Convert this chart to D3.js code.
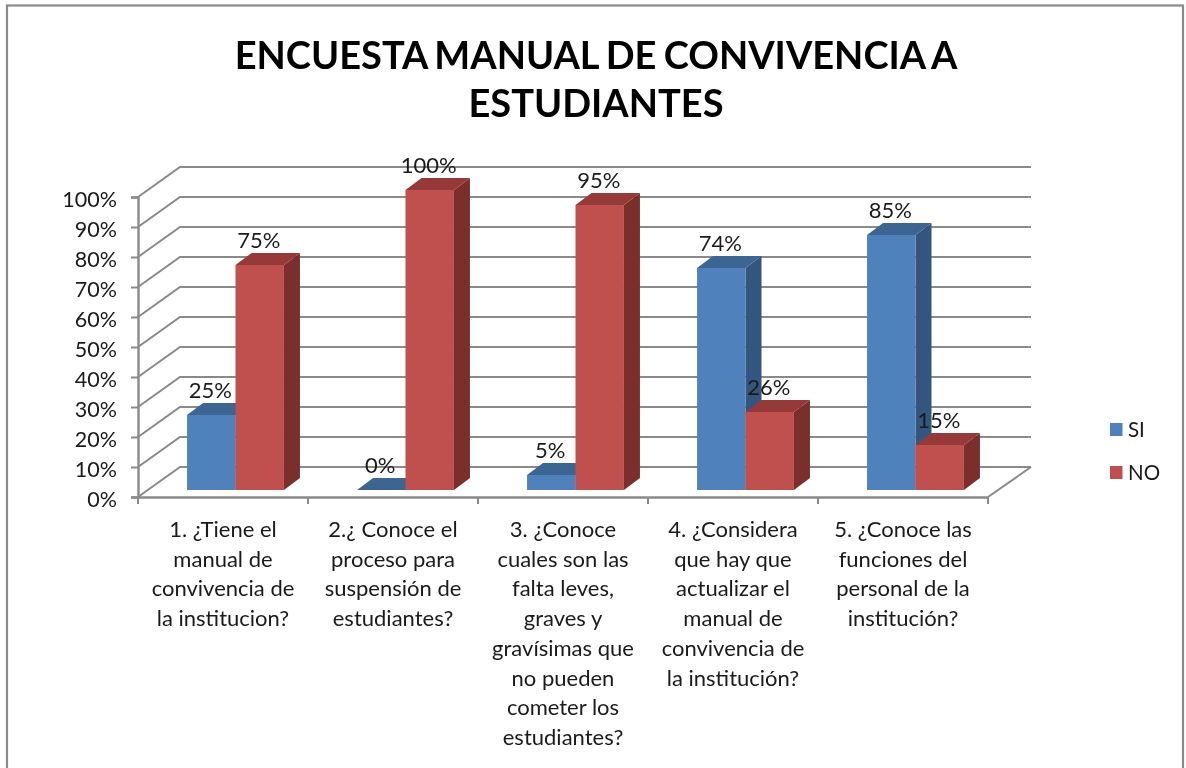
<!DOCTYPE html>
<html><head><meta charset="utf-8">
<script src="https://cdn.jsdelivr.net/npm/d3@7/dist/d3.min.js"></script>
<style>html,body{margin:0;padding:0;background:#fff;overflow:hidden}svg{display:block;filter:blur(0.4px)}text{font-family:Lato,"Open Sans",sans-serif;fill:#1a1a1a}</style>
</head><body><svg id="c" width="1186" height="768"></svg>
<script>
const titleLines = ["ENCUESTA MANUAL DE CONVIVENCIA A", "ESTUDIANTES"];
const categories = ["c1","c2","c3","c4","c5"];
const categoryLines = [
  ["1. ¿Tiene el","manual de","convivencia de","la institucion?"],
  ["2.¿ Conoce el","proceso para","suspensión de","estudiantes?"],
  ["3. ¿Conoce","cuales son las","falta leves,","graves y","gravísimas que","no pueden","cometer los","estudiantes?"],
  ["4. ¿Considera","que hay que","actualizar el","manual de","convivencia de","la institución?"],
  ["5. ¿Conoce las","funciones del","personal de la","institución?"]
];
const seriesNames = ["SI","NO"];
const siValues = [25,0,5,74,85];
const noValues = [75,100,95,26,15];
const yTicks = [0,10,20,30,40,50,60,70,80,90,100];
const colors = {SI:{front:"#4F81BD",top:"#3C6591",side:"#34557E"},NO:{front:"#C0504D",top:"#953A38",side:"#7B2F2D"}};

const svg = d3.select("#c");
const L=138,R=988,B=497,T=197, wdx=42, wdy=-30, bdx=16, bdy=-12, baseLift=7, barShift=12.5;
const y = d3.scaleLinear().domain([0,100]).range([B,T]);
const x = d3.scaleBand().domain(categories).range([L,R]);
const xBars = d3.scaleBand().domain(categories).range([L+barShift,R+barShift]).paddingInner(0.43).paddingOuter(0.215);
const xInner = d3.scaleBand().domain(seriesNames).range([0,xBars.bandwidth()]);
const grid="#8a8a8a";

// frame
svg.append("rect").attr("x",7).attr("y",5.5).attr("width",1176).attr("height",780).attr("fill","#fff").attr("stroke",grid).attr("stroke-width",2.2);

// title
svg.append("g").selectAll("text").data(titleLines).join("text")
  .attr("x",596).attr("y",(d,i)=>69+i*47.5).attr("text-anchor","middle")
  .attr("font-size",38).attr("font-weight",700).attr("word-spacing",-2).style("fill","#000").text(d=>d);

// walls
const gl=svg.append("g").attr("stroke",grid).attr("stroke-width",2).attr("fill","none");
yTicks.forEach(t=>{
  gl.append("path").attr("d",`M${L},${y(t)}L${L+wdx},${y(t)+wdy}L${R+wdx+1},${y(t)+wdy}`);
});
gl.append("path").attr("d",`M${R},${B}L${R+wdx+1},${B+wdy}`);

// axes
const ya=svg.append("g").attr("transform",`translate(${L},0)`)
  .call(d3.axisLeft(y).tickValues(yTicks).tickFormat(d=>d+"%").tickSize(7).tickPadding(14));
const xa=svg.append("g").attr("transform",`translate(0,${B})`)
  .call(d3.axisBottom(x).tickFormat("").tickSize(0));
[ya,xa].forEach(a=>{a.selectAll("path").attr("stroke",grid).attr("stroke-width",2.4);a.selectAll("line").attr("stroke",grid).attr("stroke-width",2);});
ya.selectAll("text").attr("font-size",21.5).attr("dy","0.42em").style("fill","#1a1a1a");
xa.selectAll(".tk").data(d3.range(categories.length+1)).join("line").attr("class","tk")
  .attr("x1",i=>L+i*x.step()).attr("x2",i=>L+i*x.step()).attr("y1",0).attr("y2",7)
  .attr("stroke",grid).attr("stroke-width",2);

// category labels
categoryLines.forEach((ls,i)=>{
  svg.append("g").selectAll("text").data(ls).join("text")
    .attr("x",x(categories[i])+x.bandwidth()/2).attr("y",(d,j)=>537+j*29.7)
    .attr("text-anchor","middle").attr("font-size",22).text(d=>d);
});

// bars
const yb=v=>y(v)-baseLift;
const series=[{n:"SI",v:siValues},{n:"NO",v:noValues}];
const gb=svg.append("g");
categories.forEach((c,i)=>{
  series.forEach(s=>{
    const v=s.v[i], c0=colors[s.n], x0=xBars(c)+xInner(s.n), w=xInner.bandwidth(), t=yb(v), b=yb(0);
    gb.append("path").attr("fill",c0.side).attr("d",`M${x0+w},${t}L${x0+w+bdx},${t+bdy}L${x0+w+bdx},${b+bdy}L${x0+w},${b}Z`);
    gb.append("path").attr("fill",c0.top).attr("d",`M${x0},${t}L${x0+bdx},${t+bdy}L${x0+w+bdx},${t+bdy}L${x0+w},${t}Z`);
    if(v>0) gb.append("rect").attr("x",x0).attr("y",t).attr("width",w).attr("height",b-t).attr("fill",c0.front);
  });
});
// data labels
categories.forEach((c,i)=>{
  series.forEach(s=>{
    const v=s.v[i];
    svg.append("text").attr("x",xBars(c)+xInner(s.n)+xInner.bandwidth()/2-1)
      .attr("y",yb(v)-17.5).attr("text-anchor","middle").attr("font-size",22).text(v+"%");
  });
});

// legend
const lg=svg.append("g").selectAll("g").data(series).join("g").attr("transform",(d,i)=>`translate(1110,${423+i*43})`);
lg.append("rect").attr("width",12.5).attr("height",13).attr("fill",d=>colors[d.n].front);
lg.append("text").attr("x",18).attr("y",14).attr("font-size",20.5).text(d=>d.n);
</script></body></html>
